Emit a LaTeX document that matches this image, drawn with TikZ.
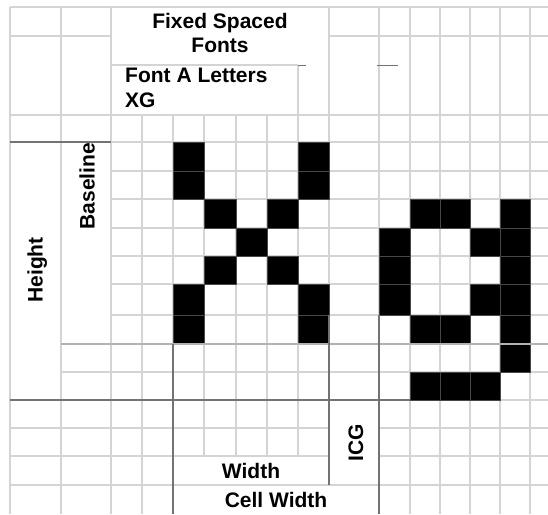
\documentclass[tikz,border=0pt]{standalone}
\usepackage{fontspec}
\setmainfont{Liberation Sans}
\begin{document}
\begin{tikzpicture}[x=1pt,y=-1pt,
  lite/.style={draw=black!17,line width=1.1pt},
  mid/.style={draw=black!30,line width=1.6pt},
  dark/.style={draw=black!55,line width=1.4pt},
  px/.style={fill=black,draw=black!72,line width=0.7pt},
  lbl/.style={font=\bfseries\fontsize{21}{24}\selectfont,inner sep=0pt},
  lbltwo/.style={font=\bfseries\fontsize{21}{25}\selectfont,inner sep=0pt}]
\useasboundingbox (0,0) rectangle (548,514);
\fill[white] (0,0) rectangle (548,514);
% light grid: horizontal
\draw[lite] (10,7) -- (548,7);
\draw[lite] (10,36) -- (111,36) (329,36) -- (548,36);
\draw[lite] (111,65) -- (298,65);
\draw[lite] (10,115) -- (548,115);
\draw[lite] (111,142) -- (548,142);
\foreach \y in {171,199,228,256,284,315} \draw[lite] (111,\y) -- (548,\y);
\draw[lite] (61,372) -- (548,372);
\draw[lite] (10,400) -- (548,400);
\foreach \y in {428,456} \draw[lite] (10,\y) -- (329,\y) (379,\y) -- (548,\y);
\draw[lite] (10,485) -- (548,485);
% light grid: vertical
\draw[lite] (10,7) -- (10,514);
\draw[lite] (61,7) -- (61,514);
\draw[lite] (111,7) -- (111,514);
\draw[lite] (142,115) -- (142,514);
\draw[lite] (173,115) -- (173,344);
\foreach \x in {204,236,267} \draw[lite] (\x,115) -- (\x,456);
\draw[lite] (298,65) -- (298,456);
\draw[lite] (329,7) -- (329,315);
\draw[lite] (379,7) -- (379,315);
\foreach \x in {410,440,470,500,530} \draw[lite] (\x,7) -- (\x,514);
% black pixels: X
\foreach \a/\b/\c/\d in {173/142/204/171, 298/142/329/171, 173/171/204/199, 298/171/329/199,
  204/199/236/228, 267/199/298/228, 236/228/267/256, 204/256/236/284, 267/256/298/284,
  173/284/204/315, 298/284/329/315, 173/315/204/344, 298/315/329/344}
  \filldraw[px] (\a,\b) rectangle (\c,\d);
% black pixels: g
\foreach \a/\b/\c/\d in {410/199/440/228, 440/199/470/228, 500/199/530/228,
  379/228/410/256, 470/228/500/256, 500/228/530/256,
  379/256/410/284, 500/256/530/284,
  379/284/410/315, 470/284/500/315, 500/284/530/315,
  410/315/440/344, 440/315/470/344, 500/315/530/344,
  500/344/530/372,
  410/372/440/400, 440/372/470/400, 470/372/500/400}
  \filldraw[px] (\a,\b) rectangle (\c,\d);
% borders
\draw[mid] (61,344) -- (548,344);
\draw[dark] (10,142) -- (111,142);
\draw[dark] (10,400) -- (410,400);
\draw[dark] (173,344) -- (173,514);
\draw[dark] (329,315) -- (329,485);
\draw[dark] (379,315) -- (379,514);
\draw[dark,line width=1pt] (298,65) -- (306,65) (377,65) -- (398,65);
% labels
\node[lbl,align=center] (fixed) at (220,33.4) {Fixed Spaced\\Fonts};
\node[lbltwo,align=left,anchor=west] (fonta) at (125,88) {Font A Letters\\XG};
\node[lbl,rotate=90,anchor=base] (height) at (42.5,270) {Height};
\node[lbl,rotate=90,anchor=base] (baseline) at (94.5,186) {Baseline};
\node[lbl,rotate=90,anchor=base] (icg) at (363,442.5) {ICG};
\node[lbl,anchor=base] (width) at (251,478) {Width};
\node[lbl,anchor=base] (cellw) at (276,507) {Cell Width};
\end{tikzpicture}
\end{document}
